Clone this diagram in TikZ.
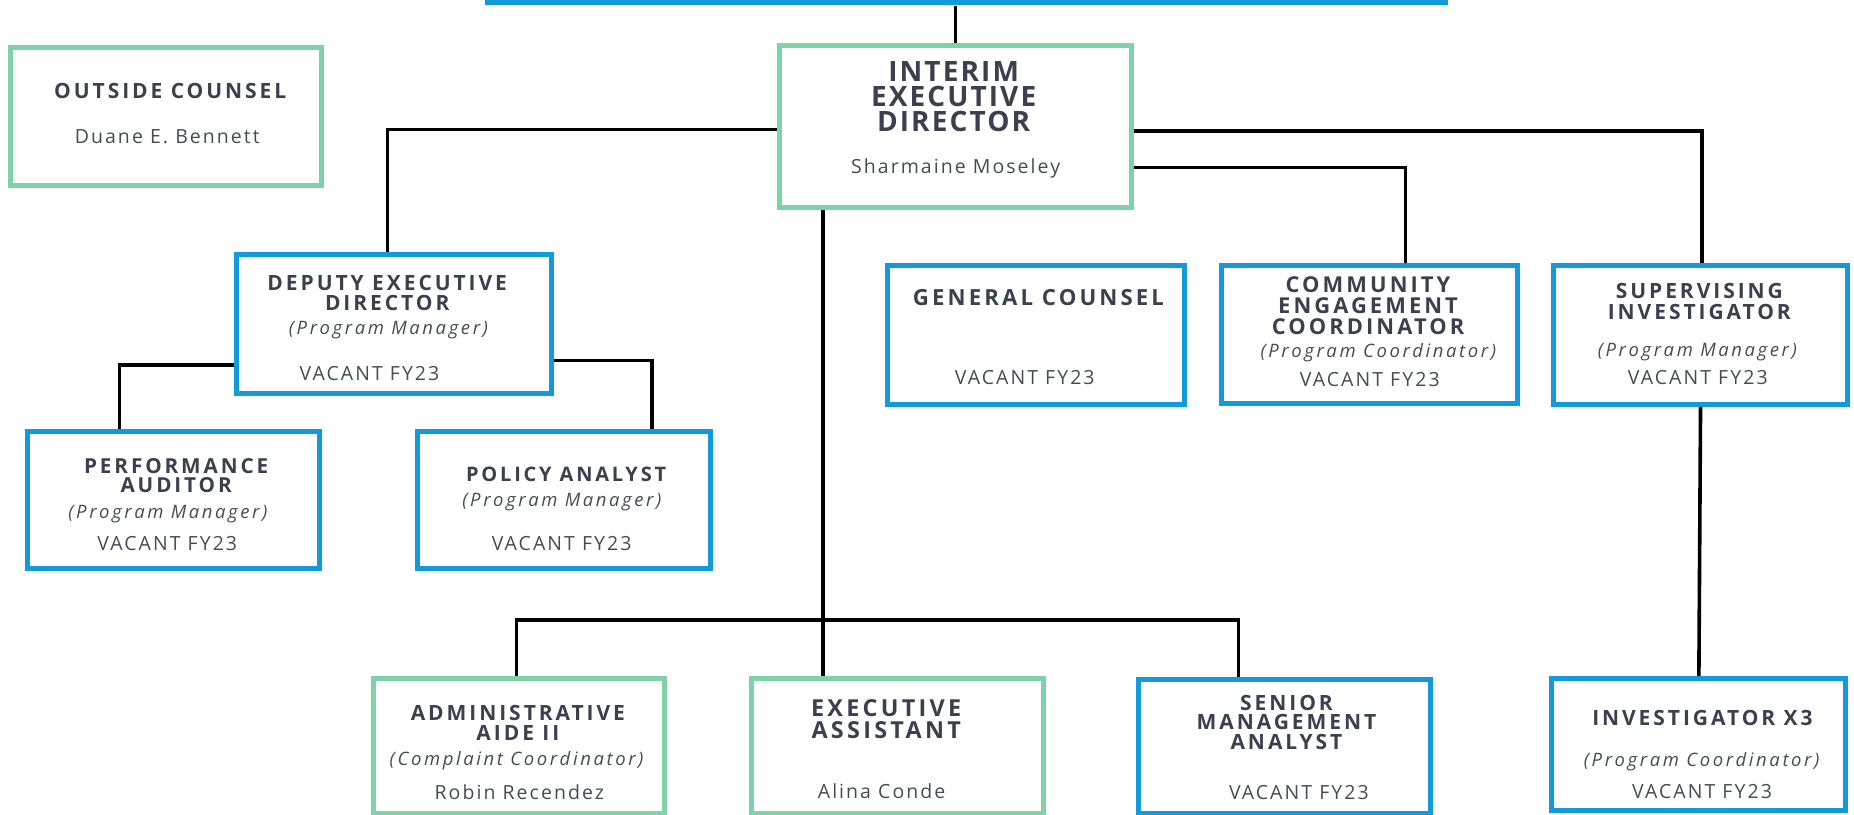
\documentclass[tikz,border=0pt]{standalone}
\usepackage{fontspec}
\setmainfont{Open Sans}
\newfontfamily\titlefont[LetterSpace=14]{Open Sans}
\newfontfamily\headfont[LetterSpace=7.5]{Open Sans}
\newfontfamily\bodyfont[LetterSpace=10.5]{Open Sans}
\newfontfamily\rolefont[LetterSpace=14]{Open Sans}
\usetikzlibrary{calc}
\definecolor{boxblue}{HTML}{129ADA}
\definecolor{boxgreen}{HTML}{7FD1AA}
\definecolor{ink}{HTML}{3A414E}
\definecolor{inklight}{HTML}{454B55}

\begin{document}
\begin{tikzpicture}[
  x=1.1824pt, y=-1.1824pt,
  sz/.style 2 args={minimum width=#1*1.1824pt, minimum height=#2*1.1824pt},
  bluebox/.style={draw=boxblue, line width=5pt, inner sep=0pt, outer sep=2.5pt},
  greenbox/.style={draw=boxgreen, line width=5pt, inner sep=0pt, outer sep=2.5pt},
  title/.style={anchor=north, align=center, inner sep=0pt, outer sep=0pt, text=ink,
    font=\titlefont\bfseries\fontsize{21}{20}\selectfont},
  tsize/.style 2 args={font=\titlefont\bfseries\fontsize{#1}{#2}\selectfont},
  bigtitle/.style={title, font=\headfont\bfseries\fontsize{28}{25}\selectfont},
  role/.style={anchor=base, inner sep=0pt, outer sep=0pt, text=inklight,
    font=\rolefont\itshape\fontsize{18.5}{22}\selectfont},
  holder/.style={anchor=base, inner sep=0pt, outer sep=0pt, text=inklight,
    font=\bodyfont\fontsize{19.5}{22}\selectfont},
  link/.style={draw=black, line width=3.6pt}
]
\useasboundingbox (0,0) rectangle (1568,689);
\clip (0,0) rectangle (1568,689);

% ---- boxes ----
\node[fill=boxblue, inner sep=0pt, sz={815}{9.5}] (bar) at (817.5,-0.25) {};

\node[greenbox, sz={263}{116.5}] (oc)  at (140.5,98.4) {};
\node[greenbox, sz={298}{137}]   (ied) at (808,107.1) {};
\node[bluebox,  sz={266.3}{117.8}] (dep) at (333.25,273.9) {};
\node[bluebox,  sz={247}{116}]   (pa)  at (147,423.2) {};
\node[bluebox,  sz={247}{116}]   (pol) at (477,423.2) {};
\node[bluebox,  sz={251}{117.5}] (gc)  at (876.5,283.1) {};
\node[bluebox,  sz={250.5}{117}] (cec) at (1158.2,282.8) {};
\node[bluebox,  sz={248.6}{117.6}] (si) at (1438.2,283.1) {};
\node[bluebox,  sz={248.7}{112}] (inv) at (1436.8,629.8) {};
\node[greenbox, sz={246}{114}]   (aa)  at (438.65,630.9) {};
\node[greenbox, sz={247}{114}]   (ea)  at (758.65,630.9) {};
\node[bluebox,  sz={247}{113.5}] (sma) at (1086.65,631.1) {};

% ---- texts ----
\node[title] (oc-t) at (144,70.5) {OUTSIDE COUNSEL};
\node[holder] (oc-n) at (141.5,121.2) {Duane E. Bennett};

\node[bigtitle] (ied-t) at (806.5,52.2) {INTERIM\\EXECUTIVE\\DIRECTOR};
\node[holder] (ied-n) at (808.2,146.6) {Sharmaine Moseley};

\node[title] (dep-t) at (327.5,232.6) {DEPUTY EXECUTIVE\\DIRECTOR};
\node[role] (dep-r) at (328.5,283.3) {(Program Manager)};
\node[holder] (dep-n) at (312.5,321.4) {VACANT FY23};

\node[title, tsize={20.7}{19}] (pa-t) at (149,387.6) {PERFORMANCE\\AUDITOR};
\node[role] (pa-r) at (142,438.4) {(Program Manager)};
\node[holder] (pa-n) at (141.5,465.2) {VACANT FY23};

\node[title, tsize={20}{19}] (pol-t) at (478.8,394.7) {POLICY ANALYST};
\node[role] (pol-r) at (475.2,428.5) {(Program Manager)};
\node[holder] (pol-n) at (475,465.2) {VACANT FY23};

\node[title, tsize={22.2}{20}] (gc-t) at (878.3,244.5) {GENERAL COUNSEL};
\node[holder] (gc-n) at (866.7,324.8) {VACANT FY23};

\node[title, tsize={21.9}{21}] (cec-t) at (1157,234.3) {COMMUNITY\\ENGAGEMENT\\COORDINATOR};
\node[role] (cec-r) at (1165.7,302.2) {(Program Coordinator)};
\node[holder] (cec-n) at (1158.5,326.5) {VACANT FY23};

\node[title, tsize={21}{20.5}] (si-t) at (1437.2,239.6) {SUPERVISING\\INVESTIGATOR};
\node[role] (si-r) at (1435.5,301.1) {(Program Manager)};
\node[holder] (si-n) at (1435.9,324.8) {VACANT FY23};

\node[title] (inv-t) at (1439.8,601) {INVESTIGATOR X3};
\node[role] (inv-r) at (1439.1,648.4) {(Program Coordinator)};
\node[holder] (inv-n) at (1439.5,675.2) {VACANT FY23};

\node[title] (aa-t) at (438,596.3) {ADMINISTRATIVE\\AIDE II};
\node[role] (aa-r) at (436.9,647.5) {(Complaint Coordinator)};
\node[holder] (aa-n) at (439.2,676) {Robin Recendez};

\node[title, tsize={23.4}{21.7}] (ea-t) at (749.5,591.8) {EXECUTIVE\\ASSISTANT};
\node[holder] (ea-n) at (745.6,675.2) {Alina Conde};

\node[title, tsize={21}{19.7}] (sma-t) at (1088,587.8) {SENIOR\\MANAGEMENT\\ANALYST};
\node[holder] (sma-n) at (1098.5,676) {VACANT FY23};

% ---- reporting lines ----
\coordinate (hub) at (696,524.4);

\draw[link] (ied.north) -- (ied.north |- bar.south);
\draw[link] ($(ied.west)+(0,2.3)$) -| ($(dep.north)+(-5.65,0)$);
\draw[link] ($(ied.east)+(0,3.7)$) -| ($(si.north)+(1.3,0)$);
\draw[link] ($(ied.east)+(0,34.7)$) -| ($(cec.north)+(30.4,0)$);
\draw[link] ($(ied.south)+(117,0)$) -- ($(ied.south)+(117,0)$ |- gc.north);
\draw[link] ($(ied.south)+(-112,0)$) -- (hub) -- (hub |- ea.north);
\draw[link] ($(aa.north)+(-2,0)$) |- (hub) -| ($(sma.north)+(-39.2,0)$);
\draw[link] ($(dep.west)+(0,34.8)$) -| ($(pa.north)+(-46,0)$);
\draw[link] ($(dep.east)+(0,31.1)$) -| ($(pol.north)+(74.6,0)$);
\draw[link] (si.south) -- (inv.north);
\end{tikzpicture}
\end{document}
